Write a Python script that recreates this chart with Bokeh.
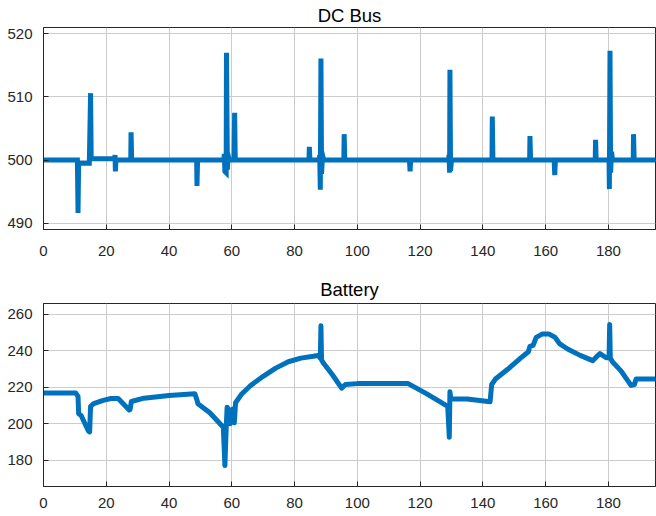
from bokeh.plotting import figure
from bokeh.layouts import column
from bokeh.models import Range1d, FixedTicker
from bokeh.embed import file_html
from bokeh.resources import INLINE

# ---- data ----
dc_time = [0, 10.8, 11.0, 11.2, 14.6, 15.0, 15.2,
           22.7, 22.8, 22.9, 23.1, 27.8, 27.9, 28.1,
           48.8, 48.9, 49.1,
           57.5, 57.6, 57.8, 58.2, 58.3, 58.6, 58.8, 59.2,
           60.7, 60.9, 61.1,
           84.6, 84.7, 84.9,
           87.9, 88.0, 88.2, 88.4, 88.6, 88.9, 89.3,
           95.7, 95.8, 96.0,
           116.6, 116.8, 117.0,
           129.1, 129.2, 129.4, 129.5, 129.7, 130.0,
           142.9, 143.0, 143.2,
           154.9, 155.0, 155.2,
           162.7, 162.9, 163.1,
           175.8, 175.9, 176.1,
           180.2, 180.3, 180.5, 180.7, 181.0, 181.3,
           187.9, 188.0, 188.2, 195]
dc_volt = [500, 500, 491.6, 499.5, 499.5, 510.6, 500.2,
           500.2, 500.8, 498.2, 500, 500, 504.4, 500,
           500, 495.9, 500,
           500, 501, 498.2, 498, 517.0, 498.5, 500.8, 500,
           500, 507.5, 500,
           500, 502.1, 500,
           500, 500.8, 495.3, 516.1, 497.8, 500.8, 500,
           500, 504.1, 500,
           500, 498.2, 500,
           500, 500.8, 498, 514.3, 498.3, 500,
           500, 506.9, 500,
           500, 503.8, 500,
           500, 497.6, 500,
           500, 503.2, 500,
           500, 495.4, 517.3, 498, 501.3, 500,
           500, 504.1, 500, 500]

bat_time = [0, 10.3, 11.0, 11.2, 12.0, 14.3, 14.7, 15.0, 16, 19, 21.5, 23.8,
            27.3, 27.6, 28.0, 32, 40, 48.2, 48.9, 49.2, 53, 57.3, 57.8, 58.2,
            58.5, 59.0, 59.5, 60.3, 60.8, 61.2, 63, 66, 70, 74, 78, 82, 86,
            87.5, 88.2, 88.4, 88.6, 89.3, 92, 95, 96.2, 100, 110, 116.2, 122,
            128.8, 129.3, 129.5, 129.8, 135, 142.3, 142.8, 144, 148, 152,
            154.5, 155, 156, 157, 159, 161, 163, 164.5, 167, 171, 175,
            176.6, 177.3, 179.3, 180.2, 180.4, 180.6, 181.4, 184, 187.2,
            188.3, 188.8, 195]
bat_volt = [216.8, 216.8, 215, 205.5, 204.5, 196, 195.5, 209.5, 211, 212.8, 213.8, 213.8,
            207.5, 207.8, 212.2, 214, 215.5, 216.5, 213, 211, 206, 198, 177, 197,
            209, 207.8, 200, 208, 200.5, 211.5, 216, 221, 226, 230.5, 234, 236, 237,
            237.5, 236, 253.8, 235, 233, 227, 219.5, 221.5, 222, 222, 222, 216.5,
            209.5, 192.5, 217.5, 213.5, 213.5, 212, 221.5, 224.5, 230, 236,
            239.5, 242.5, 243, 247.4, 249.3, 249.3, 247.4, 243.8, 241, 237.5, 234.6,
            237.4, 238.5, 236.2, 236.2, 254.5, 236, 233.7, 229, 221,
            221.5, 224.5, 224.5]

x_ticks = [0, 20, 40, 60, 80, 100, 120, 140, 160, 180]
dc_ticks = [490, 500, 510, 520]
bat_ticks = [180, 200, 220, 240, 260]

LINE = "#0072BD"
TXT = "#262626"
FONT = "Liberation Sans"


def style(p, yticks, xstand, tstand):
    p.title.align = "center"
    p.title.text_font = FONT
    p.title.text_font_style = "normal"
    p.title.text_font_size = "18.5px"
    p.title.text_color = "#000000"
    p.title.standoff = tstand
    p.outline_line_color = TXT
    p.outline_line_width = 1
    p.xaxis.ticker = FixedTicker(ticks=x_ticks)
    p.yaxis.ticker = FixedTicker(ticks=yticks)
    for ax in (p.xaxis[0], p.yaxis[0]):
        ax.major_tick_in = 5
        ax.major_tick_out = 0
        ax.minor_tick_in = 0
        ax.minor_tick_out = 0
        ax.axis_line_color = TXT
        ax.major_tick_line_color = TXT
        ax.major_label_text_font = FONT
        ax.major_label_text_font_size = "15px"
        ax.major_label_text_color = TXT
    p.xaxis.major_label_standoff = xstand
    p.yaxis.major_label_standoff = 11
    p.grid.grid_line_color = "#cccccc"
    p.grid.grid_line_width = 1
    p.background_fill_color = "white"
    p.border_fill_color = "white"


p1 = figure(width=656, height=262, x_range=Range1d(0, 195), y_range=Range1d(489, 521),
            output_backend="svg", toolbar_location=None, title="DC Bus",
            min_border_left=43, min_border_right=1, min_border_top=27, min_border_bottom=33)
style(p1, dc_ticks, 16, 4)
p1.line(x=dc_time, y=dc_volt, line_color=LINE, line_width=5, line_join="miter")

p2 = figure(width=656, height=254, x_range=Range1d(0, 195), y_range=Range1d(165.5, 266),
            output_backend="svg", toolbar_location=None, title="Battery",
            min_border_left=43, min_border_right=1, min_border_top=41, min_border_bottom=30)
style(p2, bat_ticks, 11, 8)
p2.line(x=bat_time, y=bat_volt, line_color=LINE, line_width=5, line_join="round")

layout = column(p1, p2, spacing=0)
open("out.html", "w").write(file_html(layout, INLINE))
